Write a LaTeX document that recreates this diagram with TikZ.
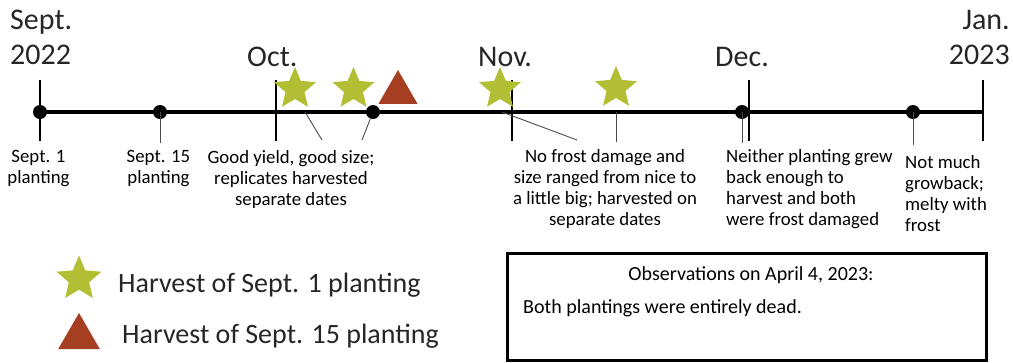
\documentclass[tikz,border=0pt]{standalone}
\usepackage{fontspec}
\setmainfont{Carlito}
\usetikzlibrary{shapes.geometric}
\definecolor{harvgreen}{RGB}{178,190,52}
\definecolor{harvred}{RGB}{166,62,34}
\begin{document}
\begin{tikzpicture}[x=1pt,y=1pt,yscale=-1,
  dot/.style={circle,fill=black,inner sep=0pt,minimum size=14pt},
  greenstar/.style={star,star points=5,star point ratio=2.2,fill=harvgreen,inner sep=0pt,minimum size=44pt},
  redtri/.style={regular polygon,regular polygon sides=3,fill=harvred,inner sep=0pt,minimum size=45pt},
  tick/.style={line width=1.2pt},
  leader/.style={line width=0.9pt,color=black!70},
  month/.style={font=\fontsize{30}{35}\selectfont,inner sep=0pt,text=black!85},
  note/.style={font=\fontsize{18.8}{21}\selectfont,inner sep=0pt,anchor=north},
  legend/.style={font=\fontsize{28}{32}\selectfont,inner sep=0pt,anchor=base west,text=black!85}]
\useasboundingbox (0,0) rectangle (1013,362);

%Straight Lines (timeline)
\draw[line width=3.5pt] (40,112) -- (983,112);
\foreach \x in {40,276,512,749,983}
  \draw[tick] (\x,80) -- (\x,141);

%Shape: Circle
\node[dot] (d1) at (40,112) {};
\node[dot] (d2) at (160,112) {};
\node[dot] (d3) at (373,112) {};
\node[dot] (d4) at (742,112) {};
\node[dot] (d5) at (913,112) {};

%Shape: Star
\node[greenstar] (s1) at (295,89) {};
\node[greenstar] (s2) at (353.5,89) {};
\node[greenstar] (s3) at (500,89) {};
\node[greenstar] (s4) at (616,88) {};
%Shape: Triangle
\node[redtri] (t1) at (398,92.5) {};

% Text Node
\node[month,anchor=north west,align=left] (sep) at (10,10) {Sept.\\2022};
\node[month,anchor=base west] (oct) at (247,66) {Oct.};
\node[month,anchor=base west] (nov) at (478,66) {Nov.};
\node[month,anchor=base west] (dec) at (715,66) {Dec.};
\node[month,anchor=north east,align=right] (jan) at (1010,10) {Jan.\\2023};

% Text Node
\node[note,align=center] (lab1) at (38.5,150) {Sept. 1\\planting};
\node[note,align=center] (lab2) at (158.5,150) {Sept. 15\\planting};
\node[note,align=center] (good) at (291,150) {Good yield, good size;\\replicates harvested\\separate dates};
\node[note,align=center] (nofrost) at (605,149) {No frost damage and\\size ranged from nice to\\a little big; harvested on\\separate dates};
\node[note,align=left,anchor=north west] (neither) at (726,149) {Neither planting grew\\back enough to\\harvest and both\\were frost damaged};
\node[note,align=left,anchor=north west] (notmuch) at (905,155) {Not much\\growback;\\melty with\\frost};

%Straight Lines (leaders)
\coordinate (goodA) at (322,140);
\coordinate (goodB) at (362,140);
\coordinate (frostA) at (577,140);
\draw[leader] (s1.center |- d1) ++(10,0) -- (goodA);
\draw[leader] (d3) -- (goodB);
\draw[leader] (s3.center |- d1) ++(2,0) -- (frostA);
\draw[leader] (d2.center) -- ++(0,31);
\draw[leader] (s4.center |- d1) -- ++(0,30);
\draw[leader] (d4.center) -- ++(0,31);
\draw[leader] (d5.center) -- ++(0,33);

% Legend
\node[greenstar,minimum size=47pt] (legstar) at (79,279) {};
\node[redtri,minimum size=48pt] (legtri) at (79,337) {};
\node[legend] (legtxt1) at (118,292) {Harvest of Sept. 1 planting};
\node[legend] (legtxt2) at (122,343) {Harvest of Sept. 15 planting};

%Shape: Rectangle
\node[draw,line width=3pt,minimum width=479pt,minimum height=107pt,inner sep=0pt] (obsbox) at (746.5,306.5) {};
\node[font=\fontsize{20}{24}\selectfont,anchor=base,inner sep=0pt] (obstitle) at (751,280) {Observations on April 4, 2023:};
\node[font=\fontsize{20}{24}\selectfont,anchor=base west,inner sep=0pt] (obsbody) at (523,313) {Both plantings were entirely dead.};

\end{tikzpicture}
\end{document}
